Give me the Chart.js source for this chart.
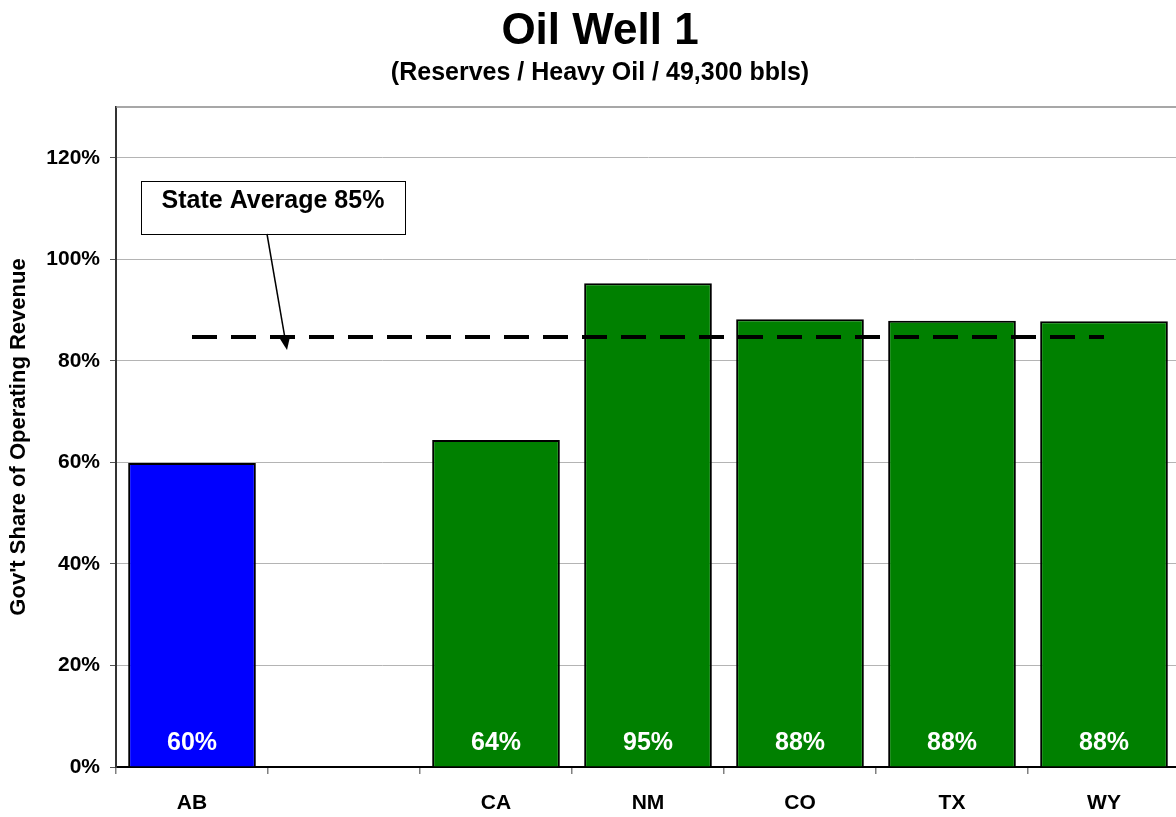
<!DOCTYPE html>
<html>
<head>
<meta charset="utf-8">
<title>Oil Well 1</title>
<script src="https://cdn.jsdelivr.net/npm/chart.js@4"></script>
<style>
  html, body { margin: 0; padding: 0; background: #ffffff; overflow: hidden; }
  #wrap { position: relative; width: 1184px; height: 817px; }
</style>
</head>
<body>
<div id="wrap"><canvas id="chart"></canvas></div>
<script>
// Government share of operating revenue, by jurisdiction
const categories = ['AB', '', 'CA', 'NM', 'CO', 'TX', 'WY'];
const govShare = [59.9, null, 64.4, 95.3, 88.2, 87.9, 87.8];
const barColors = ['#0000ff', '#0000ff', '#008000', '#008000', '#008000', '#008000', '#008000'];
const stateAverage = 84.7;
const averageLine = categories.map(() => stateAverage);
const yTickValues = [0, 20, 40, 60, 80, 100, 120];
const chartTitle = 'Oil Well 1';
const chartSubtitle = '(Reserves / Heavy Oil / 49,300 bbls)';

const FONT = "'Liberation Sans', Arial, Helvetica, sans-serif";

// Title block, centred over the full figure width
const headings = {
  id: 'headings',
  afterDraw(chart) {
    const ctx = chart.ctx;
    ctx.save();
    ctx.fillStyle = '#000000';
    ctx.textAlign = 'center';
    ctx.textBaseline = 'alphabetic';
    ctx.font = `bold 44px ${FONT}`;
    ctx.fillText(chartTitle, 600, 44);
    ctx.font = `bold 25px ${FONT}`;
    ctx.fillText(chartSubtitle, 600, 80);
    ctx.restore();
  }
};

// White percentage labels near the foot of each bar
const barValueLabels = {
  id: 'barValueLabels',
  afterDatasetsDraw(chart) {
    const meta = chart.getDatasetMeta(0);
    const ctx = chart.ctx;
    ctx.save();
    ctx.font = `bold 25px ${FONT}`;
    ctx.fillStyle = '#ffffff';
    ctx.textAlign = 'center';
    ctx.textBaseline = 'alphabetic';
    meta.data.forEach((bar, i) => {
      const v = govShare[i];
      if (v === null || v === undefined) return;
      ctx.fillText(Math.round(v) + '%', bar.x, bar.base - 17);
    });
    ctx.restore();
  }
};

// Thin frame along the top of the plot area
const plotFrame = {
  id: 'plotFrame',
  beforeDatasetsDraw(chart) {
    const { ctx, chartArea } = chart;
    ctx.save();
    ctx.strokeStyle = '#8a8a8a';
    ctx.lineWidth = 1.5;
    ctx.beginPath();
    ctx.moveTo(chartArea.left, chartArea.top);
    ctx.lineTo(chartArea.right, chartArea.top);
    ctx.stroke();
    ctx.restore();
  }
};

// Callout box with an arrow pointing at the state average line
const averageCallout = {
  id: 'averageCallout',
  afterDraw(chart) {
    const { ctx, chartArea, scales } = chart;
    const boxX = chartArea.left + 25;
    const boxY = chartArea.top + 74;
    const boxW = 264;
    const boxH = 53;
    ctx.save();
    ctx.fillStyle = '#ffffff';
    ctx.fillRect(boxX, boxY, boxW, boxH);
    ctx.strokeStyle = '#000000';
    ctx.lineWidth = 1;
    ctx.strokeRect(boxX + 0.5, boxY + 0.5, boxW, boxH);

    ctx.fillStyle = '#000000';
    ctx.font = `bold 25px ${FONT}`;
    ctx.textAlign = 'center';
    ctx.textBaseline = 'alphabetic';
    ctx.fillText('State Average ' + Math.round(stateAverage) + '%', boxX + boxW / 2, boxY + 27);

    // arrow
    const x0 = boxX + 126, y0 = boxY + boxH;
    const x1 = chartArea.left + 171;
    const y1 = scales.y.getPixelForValue(stateAverage) + 13;
    const ang = Math.atan2(y1 - y0, x1 - x0);
    const headLen = 12, headW = 5;
    const bx = x1 - headLen * Math.cos(ang), by = y1 - headLen * Math.sin(ang);
    ctx.lineWidth = 1.5;
    ctx.beginPath();
    ctx.moveTo(x0, y0);
    ctx.lineTo(bx, by);
    ctx.stroke();
    ctx.beginPath();
    ctx.moveTo(x1, y1);
    ctx.lineTo(bx + headW * Math.sin(ang), by - headW * Math.cos(ang));
    ctx.lineTo(bx - headW * Math.sin(ang), by + headW * Math.cos(ang));
    ctx.closePath();
    ctx.fill();
    ctx.restore();
  }
};

new Chart(document.getElementById('chart'), {
  data: {
    labels: categories,
    datasets: [
      {
        type: 'bar',
        label: "Gov't Share",
        data: govShare,
        backgroundColor: barColors,
        borderColor: '#000000',
        borderWidth: 2,
        barPercentage: 0.84,
        categoryPercentage: 1.0,
        order: 2
      },
      {
        type: 'line',
        label: 'State Average',
        data: averageLine,
        borderColor: '#000000',
        borderWidth: 4,
        borderDash: [25, 14],
        borderCapStyle: 'butt',
        pointRadius: 0,
        fill: false,
        tension: 0,
        order: 1
      }
    ]
  },
  options: {
    responsive: true,
    maintainAspectRatio: false,
    animation: false,
    layout: { padding: { left: 0, right: 4, top: 107, bottom: 0 } },
    plugins: {
      legend: { display: false },
      tooltip: { enabled: false },
      title: { display: false },
      subtitle: { display: false }
    },
    scales: {
      x: {
        offset: true,
        grid: {
          offset: true,
          display: true,
          drawOnChartArea: false,
          drawTicks: true,
          tickLength: 7,
          color: '#808080',
          tickColor: '#808080',
          lineWidth: 1.5
        },
        border: { display: true, color: '#000000', width: 2 },
        ticks: {
          color: '#000000',
          font: { family: FONT, size: 21, weight: 'bold' },
          padding: 17,
          maxRotation: 0
        },
        afterFit(scale) { scale.height = 50; }
      },
      y: {
        min: 0,
        max: 130,
        grid: {
          color: '#b4b4b4',
          lineWidth: 1,
          drawTicks: true,
          tickLength: 6,
          tickColor: '#555555'
        },
        border: { display: true, color: '#333333', width: 2 },
        ticks: {
          stepSize: 20,
          color: '#000000',
          font: { family: FONT, size: 21, weight: 'bold' },
          padding: 10,
          callback: (v) => v + '%'
        },
        afterBuildTicks(scale) {
          scale.ticks = yTickValues.map(v => ({ value: v }));
        },
        title: {
          display: true,
          text: "Gov't Share of Operating Revenue",
          color: '#000000',
          font: { family: FONT, size: 22, weight: 'bold' },
          padding: { top: 6, bottom: 0 }
        },
        afterFit(scale) { scale.width = 116; }
      }
    }
  },
  plugins: [plotFrame, barValueLabels, averageCallout, headings]
});
</script>
</body>
</html>
